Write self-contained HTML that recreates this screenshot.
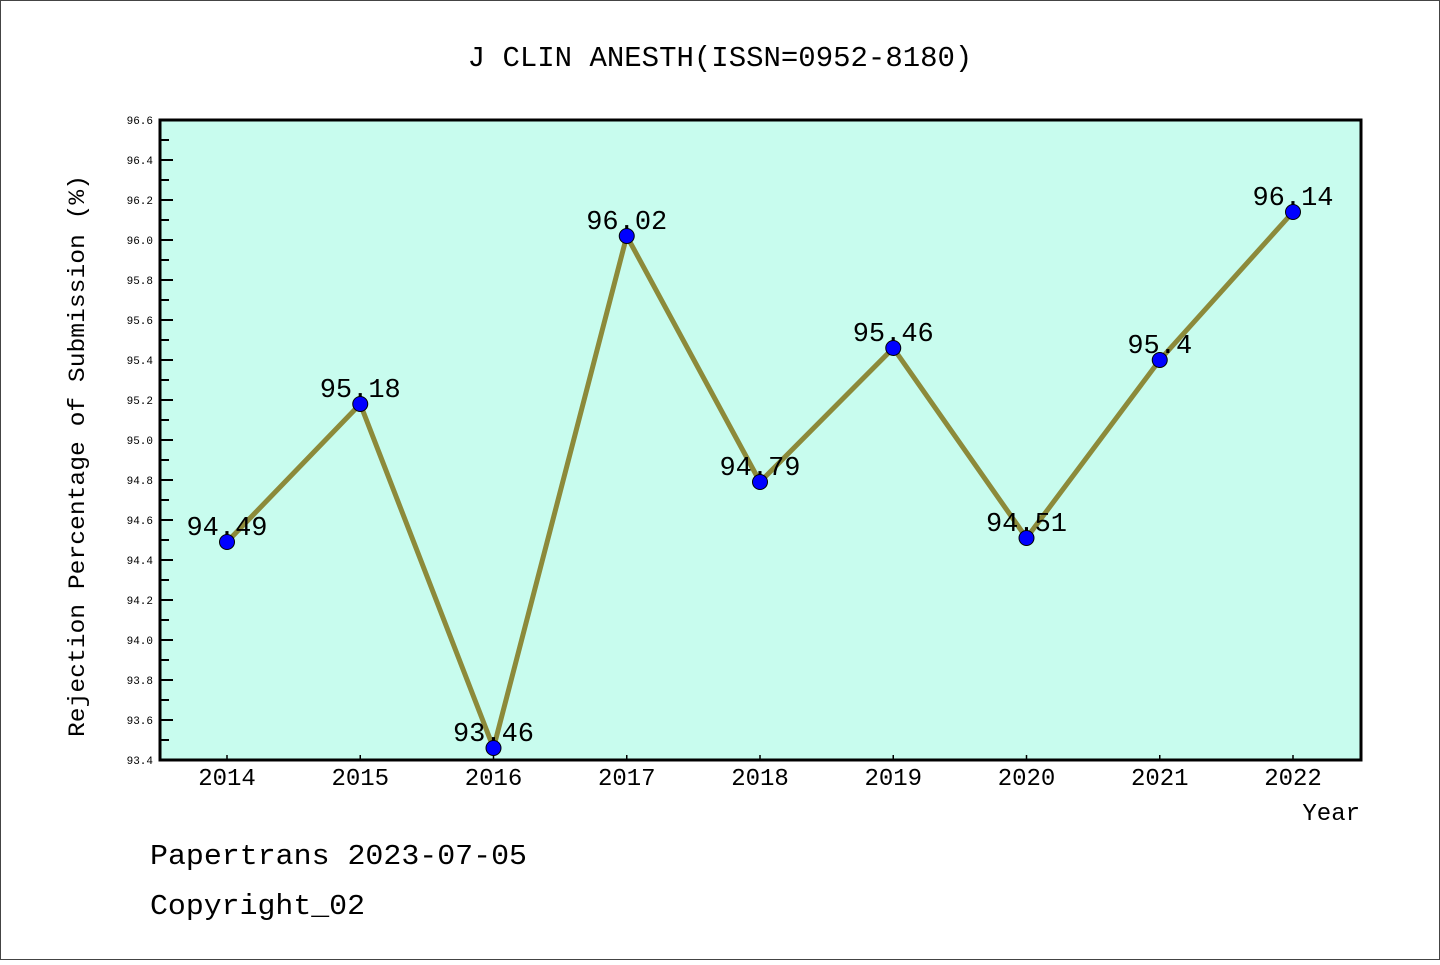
<!DOCTYPE html>
<html><head><meta charset="utf-8"><style>
body{margin:0;background:#fff}
svg text{font-family:"Liberation Mono","DejaVu Sans Mono",monospace;fill:#000}
</style></head><body>
<svg id="chart" width="1440" height="960" xmlns="http://www.w3.org/2000/svg">
<rect x="0.5" y="0.5" width="1439" height="959" fill="#fff" stroke="#444" stroke-width="1"/>
<text x="720" y="66" font-size="29" text-anchor="middle">J CLIN ANESTH(ISSN=0952-8180)</text>
<rect x="160" y="120" width="1201" height="640" fill="#c8fcee"/>
<g id="yaxis"></g>
<g id="xaxis"></g>
<g id="series"></g>
<rect x="160" y="120" width="1201" height="640" fill="none" stroke="#000" stroke-width="3"/>
<text transform="translate(84,456) rotate(-90)" font-size="23" text-anchor="middle" textLength="562" lengthAdjust="spacingAndGlyphs">Rejection Percentage of Submission (%)</text>
<text x="1360" y="820" font-size="24" text-anchor="end">Year</text>
<text x="150" y="864" font-size="29" textLength="377" lengthAdjust="spacingAndGlyphs">Papertrans 2023-07-05</text>
<text x="150" y="914" font-size="29" textLength="215" lengthAdjust="spacingAndGlyphs">Copyright_02</text>
</svg>
<script>
const categories=[2014,2015,2016,2017,2018,2019,2020,2021,2022];
const values=[94.49,95.18,93.46,96.02,94.79,95.46,94.51,95.4,96.14];
const valueLabels=["94.49","95.18","93.46","96.02","94.79","95.46","94.51","95.4","96.14"];
const yTicks=[93.4,93.6,93.8,94.0,94.2,94.4,94.6,94.8,95.0,95.2,95.4,95.6,95.8,96.0,96.2,96.4,96.6];
const yMin=93.4,yMax=96.6;
const NS="http://www.w3.org/2000/svg";
function y(v){return 760-(v-yMin)/(yMax-yMin)*640;}
function x(i){return 227+i*(1293-227)/(categories.length-1);}
function mk(tag,attrs,parent){const e=document.createElementNS(NS,tag);for(const k in attrs)e.setAttribute(k,attrs[k]);parent.appendChild(e);return e;}
const ya=document.getElementById('yaxis'),xa=document.getElementById('xaxis'),sg=document.getElementById('series');
yTicks.forEach((t,idx)=>{
  const l=mk('line',{x1:160,x2:173,y1:y(t),y2:y(t),stroke:'#000','stroke-width':2},ya);
  
  
  if(idx<yTicks.length-1){
    const m=mk('line',{x1:160,x2:169,y1:y(t+0.1),y2:y(t+0.1),stroke:'#000','stroke-width':2},ya);
    
    
  }
  const tx=mk('text',{x:153,y:y(t)+4,'font-size':11,'text-anchor':'end'},ya);
  tx.textContent=t.toFixed(1);
  
  
});
categories.forEach((c,i)=>{
  const l=mk('line',{x1:x(i),x2:x(i),y1:760,y2:755,stroke:'#000','stroke-width':1.5},xa);
  
  
  const tx=mk('text',{x:x(i),y:785,'font-size':24,'text-anchor':'middle'},xa);
  tx.textContent=c;
  
  
});
const line=mk('polyline',{points:values.map((v,i)=>x(i)+','+y(v)).join(' '),fill:'none',stroke:'#8c8a3a','stroke-width':5,'stroke-linejoin':'round'},sg);


values.forEach((v,i)=>{
  const c=mk('circle',{cx:x(i),cy:y(v),r:7.5,fill:'#0000ff',stroke:'#000','stroke-width':1},sg);
  
  
  const t=mk('text',{x:x(i),y:y(v)-7,'font-size':27,'text-anchor':'middle'},sg);
  t.textContent=valueLabels[i];
  
  
});
</script>
</body></html>
